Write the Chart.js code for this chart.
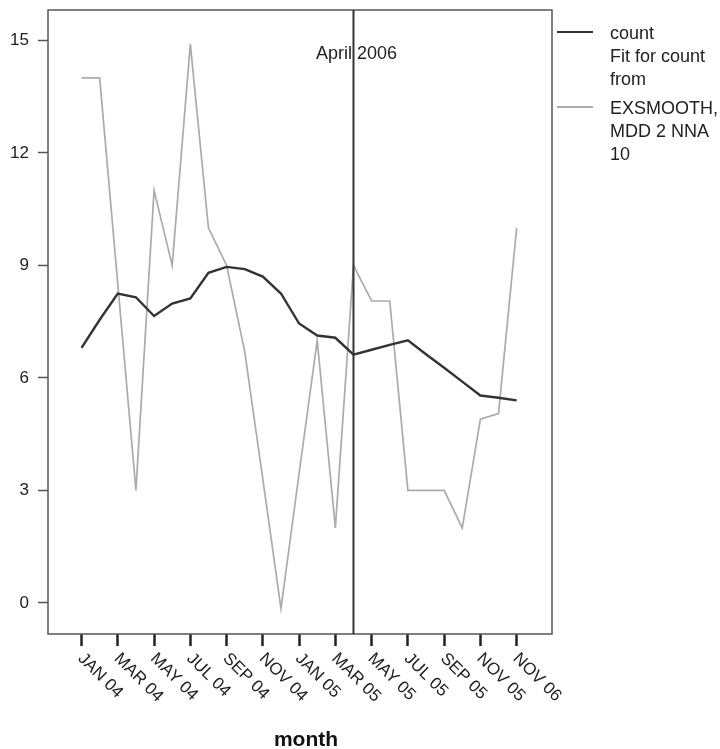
<!DOCTYPE html>
<html>
<head>
<meta charset="utf-8">
<script src="https://cdn.jsdelivr.net/npm/chart.js@4.4.1/dist/chart.umd.min.js"></script>
<style>
  html, body { margin: 0; padding: 0; background: #fff; }
</style>
</head>
<body>
<canvas id="chart" width="720" height="749"></canvas>
<script>
// month index 0 = JAN 04
const months = [0, 1, 2, 3, 4, 5, 6, 7, 8, 9, 10, 11, 12, 13, 14, 15, 16, 17, 18, 19, 20, 21, 22, 23, 24];
const countValues = [6.8, 7.55, 8.25, 8.15, 7.65, 7.98, 8.12, 8.8, 8.96, 8.9, 8.7, 8.25, 7.45,
                     7.13, 7.07, 6.62, 6.75, 6.88, 7.0, 6.63, 6.27, 5.9, 5.53, 5.47, 5.4];
const fitValues = [14, 14, 8.5, 3, 11, 9, 14.9, 10, 9, 6.7, 3.3, -0.15, 3.45,
                   7.0, 2.0, 9.0, 8.05, 8.05, 3.0, 3.0, 3.0, 2.0, 4.9, 5.05, 10.0];

const tickMonths = [0, 2, 4, 6, 8, 10, 12, 14, 16, 18, 20, 22, 24];
const tickLabels = ['JAN 04', 'MAR 04', 'MAY 04', 'JUL 04', 'SEP 04', 'NOV 04', 'JAN 05',
                    'MAR 05', 'MAY 05', 'JUL 05', 'SEP 05', 'NOV 05', 'NOV 06'];
const yTicks = [0, 3, 6, 9, 12, 15];
const xTitle = 'month';

const markerMonth = 15;
const markerLabel = 'April 2006';

const legendColors = ['#333333', '#ababab'];
const legendLines = [['count', 'Fit for count', 'from'], ['EXSMOOTH,', 'MDD 2 NNA', '10']];

const FONT = '"Liberation Sans", Arial, Helvetica, sans-serif';

const toPoints = vals => months.map((m, i) => ({ x: m, y: vals[i] }));

// frame, forecast marker, rotated month labels, axis title and legend
const extras = {
    id: 'extras',
    afterDatasetsDraw(chart) {
        const { ctx, chartArea: a, scales: { x } } = chart;
        ctx.save();

        ctx.strokeStyle = '#555';
        ctx.lineWidth = 1.5;
        ctx.strokeRect(a.left, a.top, a.right - a.left, a.bottom - a.top);

        const mx = x.getPixelForValue(markerMonth);
        ctx.strokeStyle = '#333';
        ctx.lineWidth = 2;
        ctx.beginPath();
        ctx.moveTo(mx, a.top);
        ctx.lineTo(mx, a.bottom);
        ctx.stroke();

        ctx.fillStyle = '#222';
        ctx.font = '18px ' + FONT;
        ctx.textAlign = 'center';
        ctx.textBaseline = 'middle';
        ctx.fillText(markerLabel, mx + 3, a.top + 44);

        ctx.font = '17px ' + FONT;
        ctx.textAlign = 'left';
        tickMonths.forEach((m, i) => {
            const px = x.getPixelForValue(m);
            ctx.save();
            ctx.translate(px - 1, a.bottom + 22);
            ctx.rotate(Math.PI / 4);
            ctx.fillText(tickLabels[i], 0, 0);
            ctx.restore();
        });

        ctx.fillStyle = '#111';
        ctx.font = 'bold 21px ' + FONT;
        ctx.textAlign = 'center';
        ctx.fillText(xTitle, (a.left + a.right) / 2 + 6, a.bottom + 106);

        // legend
        ctx.fillStyle = '#222';
        ctx.font = '18px ' + FONT;
        ctx.textAlign = 'left';
        let ly = a.top + 24;
        legendLines.forEach((lines, k) => {
            ctx.strokeStyle = legendColors[k];
            ctx.lineWidth = 2;
            ctx.beginPath();
            ctx.moveTo(a.right + 5, ly - 2);
            ctx.lineTo(a.right + 41, ly - 2);
            ctx.stroke();
            lines.forEach((t, j) => ctx.fillText(t, a.right + 58, ly + j * 23));
            ly += lines.length * 23 + 6;
        });

        ctx.restore();
    }
};

new Chart(document.getElementById('chart'), {
    type: 'line',
    data: {
        datasets: [
            {
                label: 'count',
                data: toPoints(countValues),
                borderColor: legendColors[0],
                borderWidth: 2.4,
                pointRadius: 0,
                tension: 0
            },
            {
                label: 'Fit for count from EXSMOOTH, MDD 2 NNA 10',
                data: toPoints(fitValues),
                borderColor: legendColors[1],
                borderWidth: 1.7,
                pointRadius: 0,
                tension: 0
            }
        ]
    },
    options: {
        responsive: false,
        animation: false,
        layout: { padding: { left: 0, top: 10, right: 168, bottom: 0 } },
        plugins: { legend: { display: false }, tooltip: { enabled: false } },
        scales: {
            x: {
                type: 'linear',
                min: -1.85,
                max: 25.95,
                afterBuildTicks: s => { s.ticks = tickMonths.map(v => ({ value: v })); },
                afterFit: s => { s.height = 115; s.paddingLeft = 0; s.paddingRight = 0; },
                ticks: { display: false },
                border: { display: false },
                grid: { drawOnChartArea: false, tickLength: 12, tickWidth: 2.5, tickColor: '#222' }
            },
            y: {
                min: -0.83,
                max: 15.81,
                afterBuildTicks: s => { s.ticks = yTicks.map(v => ({ value: v })); },
                afterFit: s => { s.width = 48; s.paddingTop = 0; s.paddingBottom = 0; },
                ticks: { color: '#222', font: { family: FONT, size: 17 }, padding: 9 },
                border: { display: false },
                grid: { drawOnChartArea: false, tickLength: 10, tickWidth: 1.5, tickColor: '#555' }
            }
        }
    },
    plugins: [extras]
});
</script>
</body>
</html>
